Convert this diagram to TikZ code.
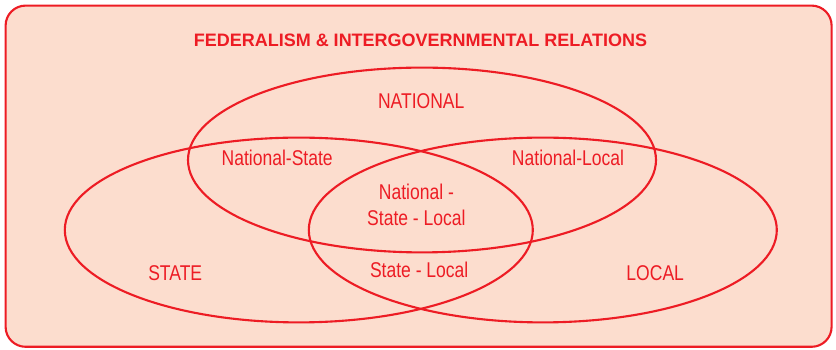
\documentclass[tikz,border=0pt]{standalone}
\usepackage{fontspec}
\setmainfont{Liberation Sans}
\newfontfamily\narrowfont[FakeStretch=0.82]{Liberation Sans}
\usepackage{tikz}
\usetikzlibrary{shapes.geometric, positioning}

\definecolor{fedred}{RGB}{237,28,36}
\definecolor{fedpeach}{RGB}{252,221,206}

\begin{document}
\begin{tikzpicture}[
  every node/.style={align=center, inner sep=1pt},
  frame/.style  ={draw=fedred, fill=fedpeach, line width=1.5pt, rounded corners=0.5cm},
  title/.style  ={text=fedred, font=\fontsize{12.8}{15}\selectfont\bfseries},
  level/.style  ={ellipse, draw=fedred, line width=1.5pt, inner sep=0pt,
                  minimum width=11.7cm, minimum height=4.62cm},
  area/.style   ={text=fedred, font=\narrowfont\fontsize{15.2}{18.4}\selectfont}
]
\useasboundingbox (0,0) rectangle (20.9,8.75);

% Outer panel
\draw[frame] (0.14,0.08) rectangle (20.79,8.61);
\node[title] (head) at (10.51,7.75) {FEDERALISM \& INTERGOVERNMENTAL RELATIONS};

% The three levels of government
\node[level] (national) at (10.55,4.75) {};
\node[level] (state)    at (7.47,3.0)   {};
\node[level] (local)    at (13.57,3.0)  {};

% Region labels
\node[area] (natlbl)   at (10.53,6.22) {NATIONAL};
\node[area] (natstate) at (6.93,4.8)   {National-State};
\node[area] (natlocal) at (14.2,4.8)   {National-Local};
\node[area] (all)      at (10.41,3.62) {National -\\State - Local};
\node[area] (statelbl) at (4.38,1.93)  {STATE};
\node[area] (stloc)    at (10.48,2.0)  {State - Local};
\node[area] (locallbl) at (16.38,1.93) {LOCAL};
\end{tikzpicture}
\end{document}
